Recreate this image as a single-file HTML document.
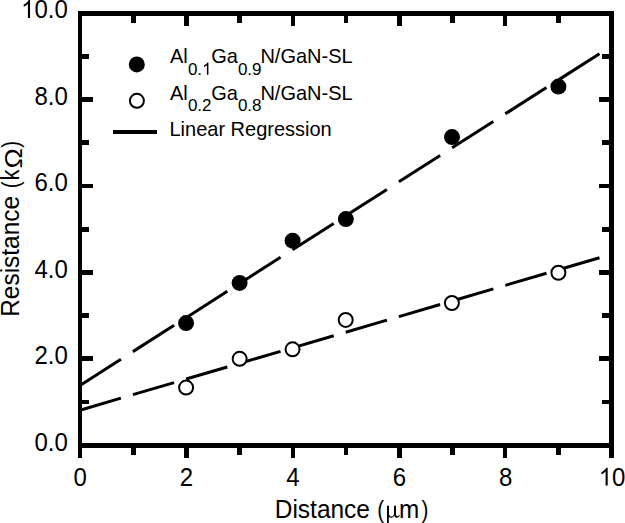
<!DOCTYPE html>
<html><head><meta charset="utf-8"><style>
html,body{margin:0;padding:0;background:#fff;}
svg{display:block;}
text{font-family:"Liberation Sans",sans-serif;fill:#000;}
</style></head><body>
<svg width="625" height="523" viewBox="0 0 625 523">
<rect width="625" height="523" fill="#fff"/>
<g fill="#000">
<rect x="78" y="11" width="4" height="447" />
<rect x="609" y="11" width="5" height="447" />
<rect x="78" y="11" width="536" height="5" />
<rect x="78" y="443" width="536" height="5" />
<rect x="131" y="448" width="5" height="7" />
<rect x="131" y="16" width="5" height="7" />
<rect x="184" y="448" width="5" height="10" />
<rect x="184" y="16" width="5" height="10" />
<rect x="237" y="448" width="5" height="7" />
<rect x="237" y="16" width="5" height="7" />
<rect x="291" y="448" width="4" height="10" />
<rect x="291" y="16" width="4" height="10" />
<rect x="344" y="448" width="4" height="7" />
<rect x="344" y="16" width="4" height="7" />
<rect x="397" y="448" width="5" height="10" />
<rect x="397" y="16" width="5" height="10" />
<rect x="450" y="448" width="5" height="7" />
<rect x="450" y="16" width="5" height="7" />
<rect x="503" y="448" width="4" height="10" />
<rect x="503" y="16" width="4" height="10" />
<rect x="556" y="448" width="5" height="7" />
<rect x="556" y="16" width="5" height="7" />
<rect x="82" y="400" width="7" height="4" />
<rect x="602" y="400" width="7" height="4" />
<rect x="82" y="356" width="11" height="5" />
<rect x="599" y="356" width="10" height="5" />
<rect x="82" y="313" width="7" height="5" />
<rect x="602" y="313" width="7" height="5" />
<rect x="82" y="270" width="11" height="5" />
<rect x="599" y="270" width="10" height="5" />
<rect x="82" y="227" width="7" height="5" />
<rect x="602" y="227" width="7" height="5" />
<rect x="82" y="184" width="11" height="4" />
<rect x="599" y="184" width="10" height="4" />
<rect x="82" y="140" width="7" height="5" />
<rect x="602" y="140" width="7" height="5" />
<rect x="82" y="97" width="11" height="5" />
<rect x="599" y="97" width="10" height="5" />
<rect x="82" y="54" width="7" height="5" />
<rect x="602" y="54" width="7" height="5" />
<g stroke="#000" stroke-width="3" stroke-linecap="butt"><line x1="80.00" y1="385.40" x2="120.93" y2="359.27" /><line x1="132.90" y1="351.62" x2="174.13" y2="325.30" /><line x1="186.10" y1="317.66" x2="227.33" y2="291.33" /><line x1="239.30" y1="283.69" x2="280.53" y2="257.36" /><line x1="292.50" y1="249.72" x2="333.73" y2="223.39" /><line x1="345.70" y1="215.75" x2="386.93" y2="189.43" /><line x1="398.90" y1="181.78" x2="440.13" y2="155.46" /><line x1="452.10" y1="147.81" x2="493.33" y2="121.49" /><line x1="505.30" y1="113.85" x2="546.53" y2="87.52" /><line x1="558.50" y1="79.88" x2="599.50" y2="53.70" /><line x1="80.00" y1="410.20" x2="120.93" y2="398.18" /><line x1="132.90" y1="394.67" x2="174.13" y2="382.57" /><line x1="186.10" y1="379.05" x2="227.33" y2="366.95" /><line x1="239.30" y1="363.44" x2="280.53" y2="351.33" /><line x1="292.50" y1="347.82" x2="333.73" y2="335.72" /><line x1="345.70" y1="332.20" x2="386.93" y2="320.10" /><line x1="398.90" y1="316.59" x2="440.13" y2="304.48" /><line x1="452.10" y1="300.97" x2="493.33" y2="288.87" /><line x1="505.30" y1="285.35" x2="546.53" y2="273.25" /><line x1="558.50" y1="269.74" x2="599.50" y2="257.70" /></g>
<circle cx="186.05" cy="323.05" r="8" />
<circle cx="239.6" cy="282.9" r="8" />
<circle cx="292.6" cy="240.65" r="8" />
<circle cx="345.85" cy="219.1" r="8" />
<circle cx="452" cy="137.1" r="8" />
<circle cx="558.4" cy="86.6" r="8" />
<circle cx="186.1" cy="387.6" r="7" fill="#fff" stroke="#000" stroke-width="2" />
<circle cx="239.65" cy="358.8" r="7" fill="#fff" stroke="#000" stroke-width="2" />
<circle cx="292.55" cy="349.35" r="7" fill="#fff" stroke="#000" stroke-width="2" />
<circle cx="345.7" cy="319.9" r="7" fill="#fff" stroke="#000" stroke-width="2" />
<circle cx="451.9" cy="303" r="7" fill="#fff" stroke="#000" stroke-width="2" />
<circle cx="558.4" cy="272.75" r="7" fill="#fff" stroke="#000" stroke-width="2" />
<circle cx="136.8" cy="64.4" r="8" />
<circle cx="136.9" cy="100.8" r="7" fill="#fff" stroke="#000" stroke-width="2" />
<rect x="113" y="130" width="44" height="4" />
<text transform="translate(170.00,62.60) scale(1.0,1.04)" font-size="20">Al</text>
<text transform="translate(187.90,74.70) scale(1.0,1.0)" font-size="17">0.</text>
<path transform="translate(202.08,74.70) scale(0.00830,-0.00830)" d="M763 0L583 0L583 1147Q518 1085 412.5 1023Q307 961 223 930L223 1104Q374 1175 487 1276Q600 1377 647 1472L763 1472Z"/>
<text transform="translate(211.20,62.60) scale(1.0,1.04)" font-size="20">Ga</text>
<text transform="translate(237.90,74.70) scale(1.0,1.0)" font-size="17">0.9</text>
<text transform="translate(260.40,62.60) scale(1.0,1.04)" font-size="20">N/GaN-SL</text>
<text transform="translate(170.00,99.70) scale(1.0,1.04)" font-size="20">Al</text>
<text transform="translate(187.90,110.60) scale(1.0,1.0)" font-size="17">0.2</text>
<text transform="translate(211.20,99.70) scale(1.0,1.04)" font-size="20">Ga</text>
<text transform="translate(237.90,110.60) scale(1.0,1.0)" font-size="17">0.8</text>
<text transform="translate(260.40,99.70) scale(1.0,1.04)" font-size="20">N/GaN-SL</text>
<text transform="translate(169.50,135.60) scale(1.0,1.04)" font-size="20">Linear Regression</text>
<text transform="translate(34.44,451.00) scale(1.0,1.04)" font-size="24">0.0</text>
<text transform="translate(34.44,364.00) scale(1.0,1.04)" font-size="24">2.0</text>
<text transform="translate(34.44,278.00) scale(1.0,1.04)" font-size="24">4.0</text>
<text transform="translate(34.44,191.00) scale(1.0,1.04)" font-size="24">6.0</text>
<text transform="translate(34.44,105.00) scale(1.0,1.04)" font-size="24">8.0</text>
<path transform="translate(21.09,18.00) scale(0.01172,-0.01219)" d="M763 0L583 0L583 1147Q518 1085 412.5 1023Q307 961 223 930L223 1104Q374 1175 487 1276Q600 1377 647 1472L763 1472Z"/>
<text transform="translate(34.44,18.00) scale(1.0,1.04)" font-size="24">0.0</text>
<text transform="translate(73.43,485.60) scale(1.0,1.04)" font-size="24">0</text>
<text transform="translate(179.83,485.60) scale(1.0,1.04)" font-size="24">2</text>
<text transform="translate(286.23,485.60) scale(1.0,1.04)" font-size="24">4</text>
<text transform="translate(392.63,485.60) scale(1.0,1.04)" font-size="24">6</text>
<text transform="translate(499.03,485.60) scale(1.0,1.04)" font-size="24">8</text>
<path transform="translate(598.75,485.60) scale(0.01172,-0.01219)" d="M763 0L583 0L583 1147Q518 1085 412.5 1023Q307 961 223 930L223 1104Q374 1175 487 1276Q600 1377 647 1472L763 1472Z"/>
<text transform="translate(612.10,485.60) scale(1.0,1.04)" font-size="24">0</text>
<text transform="translate(274.70,517.50) scale(1.0,1.04)" font-size="24.5">Distance</text>
<text transform="translate(377.20,517.50) scale(0.85,1.0)" font-size="24.3">(</text>
<path d="M387 505.7H389V513.5C389 515.6 390 516.6 391.5 516.6C392.8 516.6 394 515.6 394 513.5V505.7H396V514.6C396 515.8 396.6 516.3 397.4 516.3C398.2 516.3 398.9 515.7 399.4 514.8L399.9 515.3C399.2 516.7 398.2 517.7 397 517.7C395.7 517.7 394.6 516.9 394.3 515.4C393.6 516.9 392.4 517.7 391 517.7C390.1 517.7 389.4 517.4 388.8 516.8V523H387Z"/>
<text transform="translate(398.90,517.50) scale(1.0,1.04)" font-size="24.3">m</text>
<text transform="translate(421.60,517.50) scale(0.85,1.0)" font-size="24.3">)</text>
<text transform="translate(18.90,316.80) rotate(-90) scale(1.0,1.04)" font-size="24.45">Resistance</text>
<text transform="translate(18.90,188.30) rotate(-90) scale(0.85,1.0)" font-size="24.3">(</text>
<text transform="translate(18.90,180.40) rotate(-90) scale(0.9,1.04)" font-size="24.3">k</text>
<text transform="translate(22.10,168.40) rotate(-90) scale(1.12,1.0)" font-size="24.3" font-family="Liberation Serif">&#937;</text>
<text transform="translate(18.90,147.70) rotate(-90) scale(0.85,1.0)" font-size="24.3">)</text>
</g>
</svg>
</body></html>
